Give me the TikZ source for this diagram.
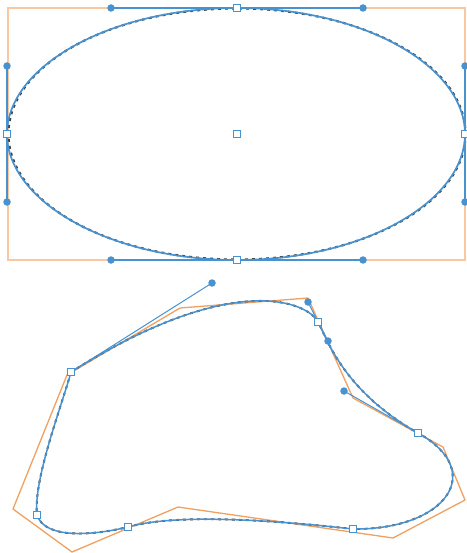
\documentclass[tikz,border=0pt]{standalone}
\usetikzlibrary{calc}
\begin{document}
\begin{tikzpicture}[x=1pt,y=-1pt]
\definecolor{myblue}{RGB}{72,146,208}
\definecolor{peach}{RGB}{250,200,160}
\definecolor{orangeline}{RGB}{240,160,96}
\tikzset{
  anchorbox/.style={rectangle, draw=myblue, fill=white, line width=1.2pt, minimum size=7.5pt, inner sep=0pt},
  handledot/.style={circle, fill=myblue, minimum size=7.5pt, inner sep=0pt},
  curveline/.style={draw=myblue, line width=1.7pt},
  ghostline/.style={draw=black!75, line width=2.1pt, dash pattern=on 3pt off 4pt},
  handleline/.style={draw=myblue, line width=2pt},
  thinhandle/.style={draw=myblue, line width=1pt},
  rectline/.style={draw=peach, line width=1.8pt},
  polyline/.style={draw=orangeline, line width=1.3pt, line join=round}
}
\useasboundingbox (0,0) rectangle (466,553);
% ---------- top: ellipse ----------
\coordinate (T) at (237,8);
\coordinate (B) at (237,260);
\coordinate (L) at (7,134);
\coordinate (R) at (465,134);
\coordinate (C) at (237,134);
\coordinate (T1) at (111,8);  \coordinate (T2) at (363,8);
\coordinate (B1) at (111,260); \coordinate (B2) at (363,260);
\coordinate (L1) at (7,66);   \coordinate (L2) at (7,202);
\coordinate (R1) at (465,66); \coordinate (R2) at (465,202);
\draw[rectline] (8,8) rectangle (465,260);
\draw[ghostline] (C) ellipse [x radius=228.5, y radius=125.5];
\draw[curveline] (L) .. controls (L1) and (T1) .. (T) .. controls (T2) and (R1) .. (R)
  .. controls (R2) and (B2) .. (B) .. controls (B1) and (L2) .. (L);
\draw[handleline] (T1) -- (T2);
\draw[handleline] (B1) -- (B2);
\draw[handleline] (L1) -- (L2);
\draw[handleline] (R1) -- (R2);
\foreach \p in {T1,T2,B1,B2,L1,L2,R1,R2} \node[handledot] at (\p) {};
\foreach \p in {T,B,L,R,C} \node[anchorbox] at (\p) {};
% ---------- bottom: free shape ----------
\draw[polyline] (13,509) -- (67,375) -- (180,308) -- (308,298) -- (353,398) -- (417,433)
  -- (443,447) -- (465,500) -- (393,538) -- (178,507) -- (72,552) -- cycle;
\coordinate (A1) at (71,372);
\coordinate (A2) at (318,322);
\coordinate (A3) at (418,433);
\coordinate (A4) at (353,529);
\coordinate (A5) at (128,527);
\coordinate (A6) at (37,515);
\coordinate (H1) at (212,283);
\coordinate (H2) at (308,302);
\coordinate (H3) at (328,341);
\coordinate (H4) at (344,391);
\coordinate (H1x) at ($(A1)!1.15!(H1)$);
\def\shapepath{(A1) .. controls (H1x) and (H2) .. (A2)
  .. controls (H3) and (H4) .. (A3)
  .. controls (488,472) and (445,530) .. (A4)
  .. controls (290,522) and (180,512) .. (A5)
  .. controls (95,535) and (45,540) .. (A6)
  .. controls (33,480) and (62,405) .. (A1)}
\draw[ghostline, line width=1.9pt] \shapepath;
\draw[curveline, line width=1.5pt] \shapepath;
\draw[thinhandle] (A1) -- (H1);
\draw[thinhandle] (H2) -- (A2) -- (H3);
\draw[thinhandle] (H4) -- (A3);
\foreach \p in {H1,H2,H3,H4} \node[handledot] at (\p) {};
\foreach \p in {A1,A2,A3,A4,A5,A6} \node[anchorbox] at (\p) {};
\end{tikzpicture}
\end{document}
